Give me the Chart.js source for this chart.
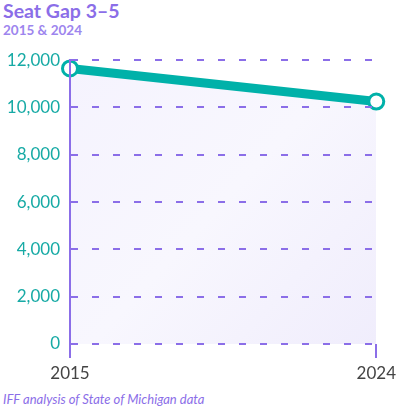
<!DOCTYPE html>
<html>
<head>
<meta charset="utf-8">
<script src="https://cdn.jsdelivr.net/npm/chart.js"></script>
<style>
  html, body { margin: 0; padding: 0; background: #fff; }
  body { width: 401px; height: 409px; position: relative; overflow: hidden; font-family: Lato, "Noto Sans", sans-serif; }
  #title { position: absolute; left: 3px; top: -1px; font-size: 19.5px; font-weight: 700; color: #8b6ee8; }
  #subtitle { position: absolute; left: 3px; top: 22px; font-size: 13.5px; font-weight: 700; color: #9d85ee; }
  #source { position: absolute; left: 3px; top: 391px; font-size: 13px; font-style: italic; color: #8b6ee8; }
  #wrap { position: absolute; left: 0; top: 40px; width: 401px; height: 350px; }
</style>
</head>
<body>
<div id="title">Seat Gap 3–5</div>
<div id="subtitle">2015 &amp; 2024</div>
<div id="wrap"><canvas id="gapChart"></canvas></div>
<div id="source">IFF analysis of State of Michigan data</div>
<script>
// values
const years = ['2015', '2024'];
const seatGap = [11650, 10250];
const yTicks = [0, 2000, 4000, 6000, 8000, 10000, 12000];

const purple = '#8b6ee8';
const teal = '#00b1a9';

const ctx = document.getElementById('gapChart').getContext('2d');
const gapChart = new Chart(ctx, {
    type: 'line',
    data: {
        labels: years,
        datasets: [{
            data: seatGap,
            borderColor: teal,
            borderWidth: 9,
            fill: 'origin',
            backgroundColor: (c) => {
                const area = c.chart.chartArea;
                if (!area) return '#f5f3fe';
                const g = c.chart.ctx.createLinearGradient(area.left, area.top, area.right, area.bottom);
                g.addColorStop(0, '#f5f3fe');
                g.addColorStop(0.5, '#f8f7fe');
                g.addColorStop(1, '#f0edfc');
                return g;
            },
            pointRadius: 7.5,
            pointHoverRadius: 7.5,
            pointBorderWidth: 3,
            pointBorderColor: teal,
            pointBackgroundColor: '#fff',
            tension: 0,
            clip: false
        }]
    },
    options: {
        responsive: true,
        maintainAspectRatio: false,
        animation: false,
        layout: { padding: { top: 20, right: 23, left: 0, bottom: 0 } },
        plugins: {
            legend: { display: false },
            tooltip: { enabled: false }
        },
        scales: {
            x: {
                offset: false,
                afterFit: (s) => { s.height = 46; },
                grid: {
                    drawOnChartArea: false,
                    drawTicks: true,
                    tickLength: 14,
                    color: purple,
                    lineWidth: 2
                },
                border: { display: false },
                ticks: {
                    padding: 5,
                    color: '#444',
                    font: { family: 'Lato', size: 17 },
                    maxRotation: 0
                }
            },
            y: {
                min: 0,
                max: 12000,
                afterFit: (s) => { s.width = 70; },
                afterBuildTicks: (s) => { s.ticks = yTicks.map(v => ({ value: v })); },
                grid: {
                    z: 1,
                    drawTicks: false,
                    color: purple,
                    lineWidth: 2
                },
                border: { display: true, z: 1, color: purple, width: 2, dash: [7, 14] },
                ticks: {
                    padding: 10,
                    color: '#17aaa5',
                    font: { family: 'Lato', size: 17 },
                    callback: (v) => v.toLocaleString('en-US')
                }
            }
        }
    }
});
</script>
</body>
</html>
